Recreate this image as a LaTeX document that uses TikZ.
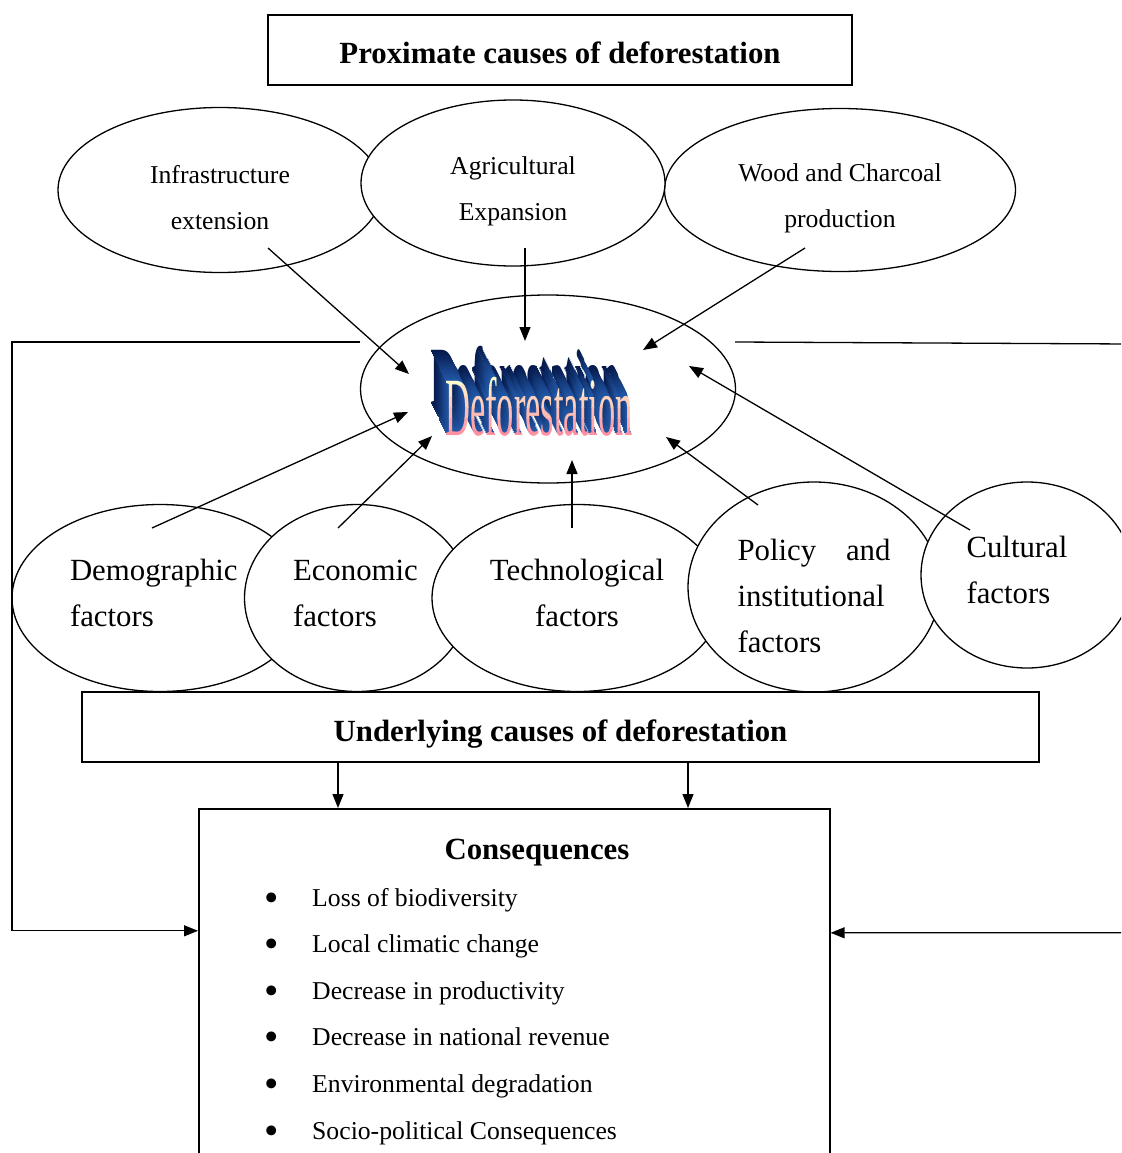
\documentclass[tikz,border=0pt]{standalone}
\usepackage{graphicx}
\usepackage{fontspec}
\setmainfont{Liberation Serif}
\usetikzlibrary{arrows.meta,positioning,calc,shapes.geometric}
\definecolor{ArtBack}{RGB}{5,25,75}
\definecolor{ArtSide}{RGB}{35,90,170}
\definecolor{ArtTop}{RGB}{255,250,205}
\definecolor{ArtBottom}{RGB}{255,145,160}
\newcommand{\bigsize}{\fontsize{30.8}{46}\selectfont}
\newcommand{\smallsize}{\fontsize{25.7}{46.5}\selectfont}
\newcommand{\wordart}{\scalebox{1}[2.4]{Deforestation}}
\newcommand{\upperstrut}[1]{\rule{0pt}{#1}}
\newcommand{\lowerstrut}{\rule[-10pt]{0pt}{10pt}}
\newcommand{\bigbullet}{\raisebox{-5pt}{\scalebox{1.6}{\textbullet}}}
\tikzset{
  causebox/.style={draw,line width=1.6pt,inner sep=0pt,font=\bigsize\bfseries,text height=28pt,text depth=0pt},
  proxcause/.style={ellipse,draw,fill=white,line width=1.3pt,inner sep=0pt,align=center,font=\smallsize},
  undercause/.style={ellipse,draw,fill=white,line width=1.3pt,inner sep=0pt,align=left,font=\bigsize},
  centre/.style={ellipse,draw,fill=white,line width=1.3pt,minimum width=375pt,minimum height=188pt},
  artword/.style={inner sep=0pt,anchor=base west,font=\fontsize{34.5}{40}\selectfont},
  link/.style={-{Triangle[length=14pt,width=11pt]},line width=1.3pt},
  conitem/.style={anchor=base west,inner sep=0pt,font=\smallsize}
}

\begin{document}
\begin{tikzpicture}[x=1pt,y=-1pt]
\clip (0,0) rectangle (1121,1153);

\node[causebox,minimum width=584pt,minimum height=70pt] (proxbox) at (560,50) {Proximate causes of deforestation};

\node[proxcause,minimum width=324pt,minimum height=165pt] (infra) at (220,190) {\upperstrut{33pt}Infrastructure\\extension};
\node[proxcause,minimum width=351pt,minimum height=163pt] (wood) at (840,190) {\upperstrut{34pt}Wood and Charcoal\\production};
\node[proxcause,minimum width=304pt,minimum height=166pt] (agri) at (513,183) {\upperstrut{34pt}Agricultural\\Expansion};

\node[centre] (defor) at (548,389) {};

\foreach \s in {16,15,...,1}{
  \pgfmathtruncatemacro\mixpct{100*\s/16}
  \node[artword,text=ArtBack!\mixpct!ArtSide] (artdepth\s) at ({445-0.9*\s},{435-1.9*\s}) {\wordart};
}
\foreach \k in {0,...,5}{
  \pgfmathtruncatemacro\mixpct{100-\k*20}
  \begin{scope}
    \clip (420,{374+\k*11}) rectangle (650,{385+\k*11});
    \node[artword,text=ArtTop!\mixpct!ArtBottom] (artfront\k) at (445,435) {\wordart};
  \end{scope}
}

\node[undercause,text width=180pt,minimum width=296pt,minimum height=187pt] (demo) at (160,598) {Demographic\\factors\lowerstrut};
\node[undercause,text width=128pt,minimum width=225pt,minimum height=187pt] (econ) at (357,598) {Economic\\factors\lowerstrut};
\node[undercause,align=center,minimum width=290pt,minimum height=187pt] (tech) at (577,598) {Technological\\factors\lowerstrut};
\node[undercause,minimum width=252pt,minimum height=210pt] (policy) at (814,587) {\parbox{153pt}{\upperstrut{40pt}Policy\hfill and\\institutional\\factors}};
\node[undercause,text width=121pt,minimum width=212pt,minimum height=186pt] (cultural) at (1027,575) {Cultural\\factors\lowerstrut};

\node[causebox,minimum width=957pt,minimum height=70pt] (underbox) at (560.5,727) {Underlying causes of deforestation};

\node[draw,line width=1.6pt,minimum width=631pt,minimum height=420pt,anchor=north west] (conbox) at (198,808) {};
\node[anchor=base,inner sep=0pt,font=\bigsize\bfseries] (contitle) at (537,859) {Consequences};
\foreach \conseq [count=\i from 0] in {Loss of biodiversity,Local climatic change,Decrease in productivity,Decrease in national revenue,Environmental degradation,Socio-political Consequences}
  \node[conitem] (item\i) at (264,{906+46.6*\i}) {\makebox[48pt][l]{\bigbullet}\conseq};

\coordinate (infraTail) at (268,248);
\coordinate (infraHead) at (409,374);
\coordinate (agriTail) at (525,248);
\coordinate (agriHead) at (525,341);
\coordinate (woodTail) at (805,248);
\coordinate (woodHead) at (643,350);
\coordinate (demoTail) at (152,528);
\coordinate (demoHead) at (408,412);
\coordinate (econTail) at (338,528);
\coordinate (econHead) at (432,436);
\coordinate (techTail) at (572,528);
\coordinate (techHead) at (572,460);
\coordinate (policyTail) at (758,505);
\coordinate (policyHead) at (666,437);
\coordinate (culturalTail) at (970,530);
\coordinate (culturalHead) at (689,366);
\coordinate (loopLstart) at (360,342);
\coordinate (loopLcorner) at (12,342);
\coordinate (loopRstart) at (735,342);
\coordinate (loopRcorner) at (1130,344);

\draw[link](infraTail)--(infraHead);\draw[link](agriTail)--(agriHead);\draw[link](woodTail)--(woodHead);
\draw[link](demoTail)--(demoHead);\draw[link](econTail)--(econHead);\draw[link](techTail)--(techHead);
\draw[link](policyTail)--(policyHead);\draw[link](culturalTail)--(culturalHead);

\draw[link](loopLstart)--(loopLcorner)|-([yshift=88pt]conbox.west);
\draw[link](loopRstart)--(loopRcorner)|-([yshift=86pt]conbox.east);

\draw[link]([xshift=-222.5pt]underbox.south)--([xshift=-222.5pt]underbox.south|-conbox.north);
\draw[link]([xshift=127.5pt]underbox.south)--([xshift=127.5pt]underbox.south|-conbox.north);
\end{tikzpicture}
\end{document}
